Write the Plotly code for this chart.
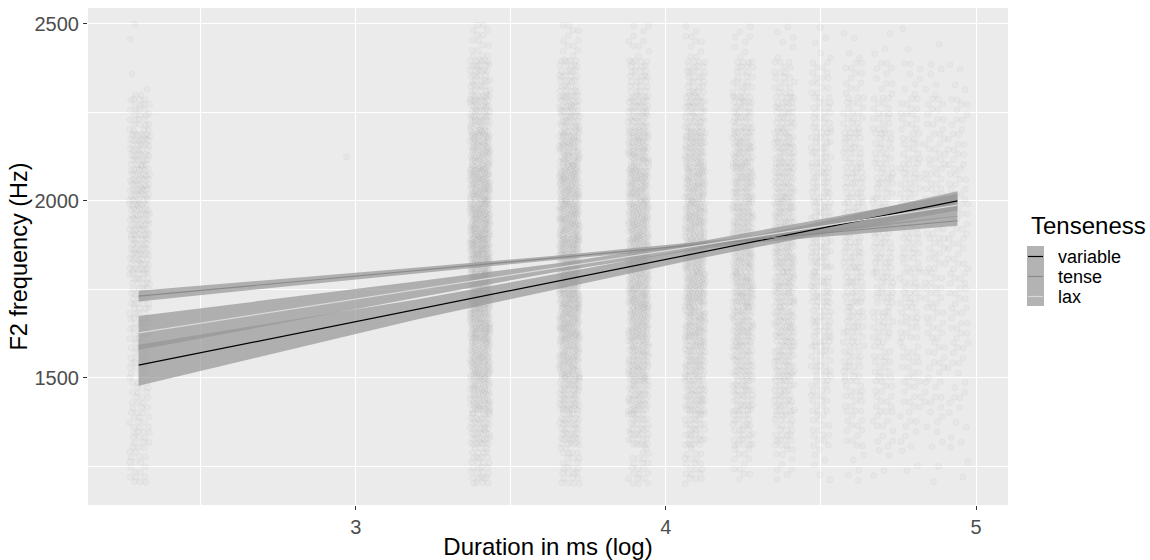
import plotly.graph_objects as go

# ---------------- data ----------------
# jittered observation strips: log(duration in ms) positions
strip_x = [2.303, 3.401, 3.689, 3.912, 4.094, 4.248, 4.382, 4.500, 4.605, 4.700, 4.787, 4.868, 4.942]
# F2 bins (Hz) lower edges, each bin 100 Hz wide
bin_lo = [1200, 1300, 1400, 1500, 1600, 1700, 1800, 1900, 2000, 2100, 2200, 2300, 2400]
# estimated number of observations per strip per bin (read from point density)
strip_counts = [
    [18, 22, 22, 26, 30, 35, 45, 50, 50, 45, 28, 2, 2],
    [30, 50, 70, 90, 110, 120, 120, 110, 100, 80, 60, 40, 15],
    [25, 45, 60, 80, 100, 110, 110, 100, 90, 75, 55, 35, 12],
    [20, 40, 55, 70, 85, 95, 95, 90, 80, 70, 50, 30, 10],
    [20, 35, 50, 60, 75, 85, 85, 80, 75, 65, 45, 30, 10],
    [12, 30, 40, 50, 60, 70, 70, 65, 60, 55, 40, 25, 8],
    [10, 25, 35, 45, 50, 55, 60, 55, 50, 45, 35, 20, 6],
    [6, 15, 20, 25, 30, 35, 35, 35, 30, 28, 22, 15, 5],
    [5, 12, 18, 22, 26, 30, 30, 30, 28, 25, 20, 12, 4],
    [4, 10, 15, 18, 22, 25, 25, 25, 24, 22, 18, 10, 3],
    [3, 8, 12, 15, 18, 20, 20, 20, 20, 18, 15, 8, 2],
    [2, 6, 10, 12, 14, 15, 15, 16, 16, 15, 12, 6, 1],
    [2, 5, 8, 10, 12, 13, 13, 14, 14, 12, 10, 4, 0],
]
lone_x = [2.97]
lone_y = [2124]

# regression fits with confidence bands
fit_x = [2.30, 2.75, 3.20, 3.65, 4.10, 4.50, 4.94]
variable_y = [1536, 1615, 1694, 1773, 1852, 1923, 2000]
variable_lo = [1478, 1572, 1666, 1752, 1836, 1905, 1973]
variable_hi = [1594, 1658, 1722, 1794, 1868, 1941, 2027]
tense_y = [1731, 1767, 1804, 1840, 1876, 1908, 1944]
tense_lo = [1716, 1756, 1796, 1834, 1869, 1898, 1930]
tense_hi = [1746, 1778, 1812, 1846, 1883, 1918, 1958]
lax_y = [1627, 1688, 1750, 1812, 1873, 1928, 1988]
lax_lo = [1579, 1653, 1727, 1800, 1862, 1908, 1956]
lax_hi = [1675, 1723, 1773, 1824, 1884, 1948, 2020]

group_names = ["variable", "tense", "lax"]
group_colors = ["#000000", "#8a8a8a", "#d9d9d9"]

x_ticks = [3, 4, 5]
y_ticks = [1500, 2000, 2500]

# ---------------- build ----------------
px_list, py_list = [], []
JIT = 0.066
for si, sx in enumerate(strip_x):
    for bi, lo in enumerate(bin_lo):
        n = strip_counts[si][bi]
        for k in range(n):
            u = (0.5 + (k + 1) * 0.7548776662 + si * 0.31 + bi * 0.17) % 1.0
            v = (0.5 + (k + 1) * 0.5698402910 + si * 0.13 + bi * 0.41) % 1.0
            px_list.append(sx + (u - 0.5) * JIT)
            py_list.append(lo + v * 100)
px_list += lone_x
py_list += lone_y

fig = go.Figure()
fig.add_trace(go.Scatter(
    x=px_list, y=py_list, mode="markers", showlegend=False, hoverinfo="skip",
    marker=dict(size=6, color="rgba(100,100,100,0.03)",
                line=dict(color="rgba(100,100,100,0.06)", width=0.8)),
))

band_fill = "rgba(150,150,150,0.7)"
fits = [
    (variable_y, variable_lo, variable_hi),
    (tense_y, tense_lo, tense_hi),
    (lax_y, lax_lo, lax_hi),
]
for yy, lo, hi in fits:
    fig.add_trace(go.Scatter(
        x=fit_x + fit_x[::-1], y=hi + lo[::-1], fill="toself", fillcolor=band_fill,
        line=dict(width=0), mode="lines", showlegend=False, hoverinfo="skip"))
for (yy, lo, hi), name, col in zip(fits, group_names, group_colors):
    fig.add_trace(go.Scatter(
        x=fit_x, y=yy, mode="lines", name=name, showlegend=False,
        line=dict(color=col, width=1.2)))

# ---- ggplot-style legend drawn in paper coordinates ----
L, W, T, H = 88.0, 920.0, 8.0, 497.0
def pxx(p):
    return (p - L) / W
def pxy(p):
    return 1 - (p - T) / H

shapes = [dict(type="rect", xref="paper", yref="paper",
               x0=pxx(1027), x1=pxx(1044), y0=pxy(246), y1=pxy(306),
               fillcolor="#b3b3b3", line=dict(width=0), layer="above")]
annotations = [dict(text="Tenseness", xref="paper", yref="paper", x=pxx(1029), y=pxy(225),
                    xanchor="left", yanchor="middle", showarrow=False,
                    font=dict(size=24, color="#000000"))]
key_y = [256.5, 276.5, 296.5]
for name, col, ky in zip(group_names, group_colors, key_y):
    shapes.append(dict(type="line", xref="paper", yref="paper",
                       x0=pxx(1028), x1=pxx(1043), y0=pxy(ky), y1=pxy(ky),
                       line=dict(color=col, width=1.2), layer="above"))
    annotations.append(dict(text=name, xref="paper", yref="paper", x=pxx(1056), y=pxy(ky),
                            xanchor="left", yanchor="middle", showarrow=False,
                            font=dict(size=18, color="#000000")))

fig.update_layout(
    width=1150, height=560,
    margin=dict(l=88, r=142, t=8, b=55, autoexpand=False),
    paper_bgcolor="white", plot_bgcolor="#ebebeb",
    font=dict(family="Liberation Sans, Arial, sans-serif", size=20, color="#4d4d4d"),
    showlegend=False, shapes=shapes, annotations=annotations,
)
fig.update_xaxes(
    range=[2.137, 5.103], tickvals=x_ticks, ticks="outside", ticklen=4,
    tickcolor="#333333", tickfont=dict(size=20, color="#4d4d4d"), automargin=False,
    showgrid=True, gridcolor="white", gridwidth=1.1, zeroline=False, showline=False,
    minor=dict(dtick=0.5, tick0=2.5, showgrid=True, gridcolor="white", gridwidth=0.5, ticks=""),
    title=dict(text="Duration in ms (log)", font=dict(size=24, color="#000000"), standoff=2),
)
fig.update_yaxes(
    range=[1141, 2545], tickvals=y_ticks, ticks="outside", ticklen=4,
    tickcolor="#333333", tickfont=dict(size=20, color="#4d4d4d"), automargin=False,
    showgrid=True, gridcolor="white", gridwidth=1.1, zeroline=False, showline=False,
    minor=dict(dtick=250, tick0=1250, showgrid=True, gridcolor="white", gridwidth=0.5, ticks=""),
    title=dict(text="F2 frequency (Hz)", font=dict(size=23.5, color="#000000"), standoff=0),
)

fig.write_html("out.html")
